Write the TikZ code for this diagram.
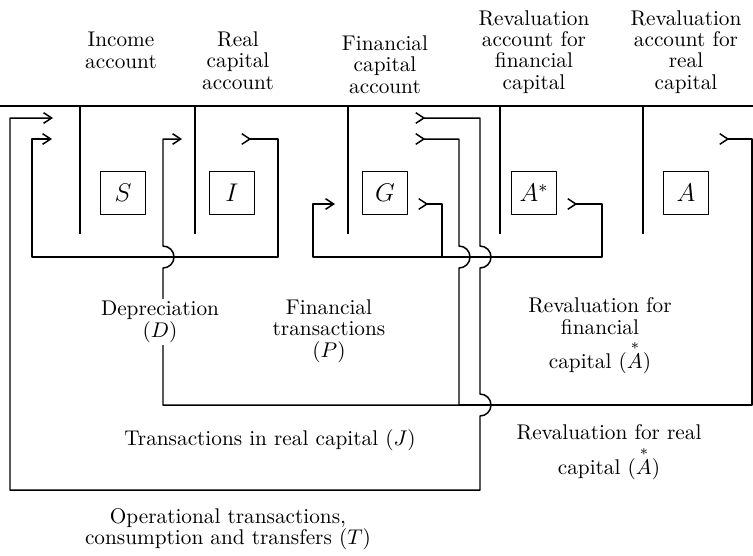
\documentclass[tikz,border=0pt]{standalone}
\usepackage{amsmath}
\usetikzlibrary{arrows.meta}
\begin{document}
\begin{tikzpicture}[x=0.47pt,y=-0.47pt,line join=round,line width=0.7pt,
  acct/.style={draw,minimum width=21pt,minimum height=20pt,inner sep=0pt,font=\large},
  lbl/.style={align=center,inner sep=1pt,font=\fontsize{10}{10}\selectfont},
  flow/.style={{Straight Barb[reversed,length=3.8pt,width=5pt]}-{Straight Barb[length=3.8pt,width=5pt]}},
  outflow/.style={{Straight Barb[reversed,length=3.8pt,width=5pt]}-}]
\useasboundingbox (0,0) rectangle (753,555);
% accounts: heading, T-stem and balance box
\draw (0,106) -- (753,106);
\foreach \x/\bx/\hx/\n/\v/\h/\t in {80/123/121/S/S/68/{Income\\account},
    195/232/238/I/I/89/{Real\\capital\\account},
    348/385/385/G/G/93/{Financial\\capital\\account},
    500/534/534/As/A^*/89/{Revaluation\\account for\\financial\\capital},
    643/686/686/A/A/89/{Revaluation\\account for\\real\\capital}}{
  \draw (\x,106) -- (\x,234);
  \node[acct] (\n) at (\bx,193) {$\v$};
  \node[lbl,anchor=base] (\n head) at (\hx,\h) {\t};}
% free ends of the flows at the accounts
\coordinate (Gout1) at (415,118); \coordinate (Sin1) at (53,118);
\coordinate (Gout2) at (415,139); \coordinate (Iin) at (182,139);
\coordinate (Iout) at (241,139);  \coordinate (Sin2) at (52,139);
\coordinate (Gout3) at (418,204); \coordinate (Gin) at (335,204);
\coordinate (Asout) at (567,204); \coordinate (Aout) at (719,139);
% T, G -> S (hops over the lines at 257 and 405)
\draw[flow] (Gout1) -- (480,118) -- (480,246) arc[start angle=-90,end angle=90,radius=11]
  -- (480,394) arc[start angle=-90,end angle=90,radius=11] -- (480,490) -- (10,490) -- (10,118) -- (Sin1);
% D, I -> S
\draw[flow] (Iout) -- (278,139) -- (278,257) -- (32,257) -- (32,139) -- (Sin2);
% J, G -> I
\draw[flow] (Gout2) -- (459,139) -- (459,246) arc[start angle=-90,end angle=90,radius=11]
  -- (459,405) -- (163,405) -- (163,268) arc[start angle=90,end angle=-90,radius=11] -- (163,139) -- (Iin);
% P, G -> G, and A* -> G
\draw[outflow] (Gout3) -- (442,204) -- (442,257);
\draw[flow] (Asout) -- (602,204) -- (602,257) -- (313,257) -- (313,204) -- (Gin);
% A -> I, joins J
\draw[outflow] (Aout) -- (752,139) -- (752,405) -- (459,405);
% flow labels
\node[lbl,fill=white] (dep) at (160,322) {Depreciation\\$(D)$};
\node[lbl] (fin) at (329,331) {Financial\\transactions\\$(P)$};
\node[lbl] (revf) at (600,336) {Revaluation for\\financial\\[2pt]capital $(\overset{*}{A})$};
\node[lbl] (trj) at (270,440) {Transactions in real capital $(J)$};
\node[lbl] (revr) at (609,452) {Revaluation for real\\[2pt]capital $(\overset{*}{A})$};
\node[lbl] (opt) at (228,529) {Operational transactions,\\consumption and transfers $(T)$};
\end{tikzpicture}
\end{document}
